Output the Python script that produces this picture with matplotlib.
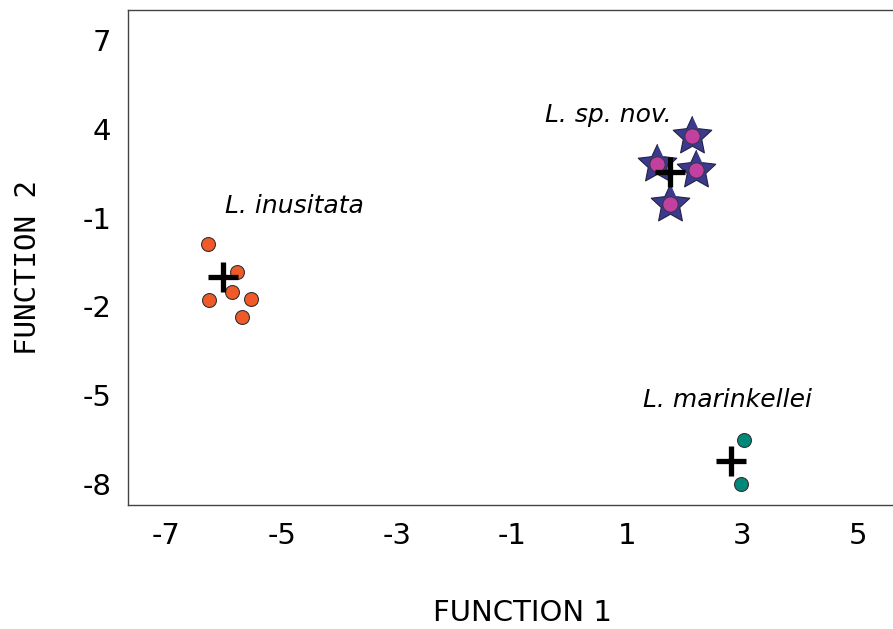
import numpy as np
import matplotlib.pyplot as plt

# discriminant scores
inus_x = [-6.28, -5.78, -5.87, -6.27, -5.54, -5.69]
inus_y = [0.10, -0.84, -1.52, -1.79, -1.76, -2.36]
nov_x = [2.12, 1.51, 2.20, 1.75]
nov_y = [3.75, 2.80, 2.60, 1.45]
mar_x = [3.02, 2.97]
mar_y = [-6.52, -8.00]

cent_x = [-6.02, 1.75, 2.80]
cent_y = [-1.01, 2.53, -7.23]

species = ["L. inusitata", "L. sp. nov.", "L. marinkellei"]
label_x = [-5.99, -0.43, 1.27]
label_y = [1.39, 4.46, -5.17]

xticks = [-7, -5, -3, -1, 1, 3, 5]
xtick_labels = ["-7", "-5", "-3", "-1", "1", "3", "5"]
yticks = [7, 4, 1, -2, -5, -8]
ytick_labels = ["7", "4", "-1", "-2", "-5", "-8"]

# fatter five-point star, like the office-style marker
ang = np.pi / 2 + np.arange(10) * np.pi / 5
rad = np.where(np.arange(10) % 2 == 0, 1.0, 0.48)
star = np.column_stack([rad * np.cos(ang), rad * np.sin(ang)])

fig = plt.figure(figsize=(8.93, 6.29), dpi=100)
ax = fig.add_axes([0.1433, 0.197, 0.857, 0.787])

ax.scatter(inus_x, inus_y, s=100, color="#f05a28", edgecolor="#333333", linewidth=0.8, zorder=3)
ax.scatter(nov_x, nov_y, s=850, marker=star, color="#3b3a8f", edgecolor="#222244", linewidth=0.8, zorder=3)
ax.scatter(nov_x, nov_y, s=120, color="#c2409f", edgecolor="#333333", linewidth=0.6, zorder=4)
ax.scatter(mar_x, mar_y, s=100, color="#00897b", edgecolor="#333333", linewidth=0.8, zorder=3)
ax.scatter(cent_x, cent_y, s=480, marker="+", color="black", linewidth=3.8, zorder=5)

for name, lx, ly in zip(species, label_x, label_y):
    ax.text(lx, ly, name, fontsize=18, style="italic", va="center", ha="left")

ax.set_xlim(-7.67, 5.62)
ax.set_ylim(-8.71, 8.01)
ax.set_xticks(xticks)
ax.set_xticklabels(xtick_labels)
ax.set_yticks(yticks)
ax.set_yticklabels(ytick_labels)
ax.tick_params(length=0, labelsize=21)
ax.tick_params(axis="x", pad=12)
ax.tick_params(axis="y", pad=12)
ax.spines["right"].set_visible(False)
for side in ["left", "bottom", "top"]:
    ax.spines[side].set_color("#444444")
    ax.spines[side].set_linewidth(1.0)

fig.text(0.585, 0.025, "FUNCTION 1", fontsize=21, ha="center", va="center")
fig.text(0.031, 0.575, "FUNCTION 2", fontsize=21, ha="center", va="center",
         rotation=90, family="DejaVu Sans Mono")

fig.savefig("out.png", dpi=100)
